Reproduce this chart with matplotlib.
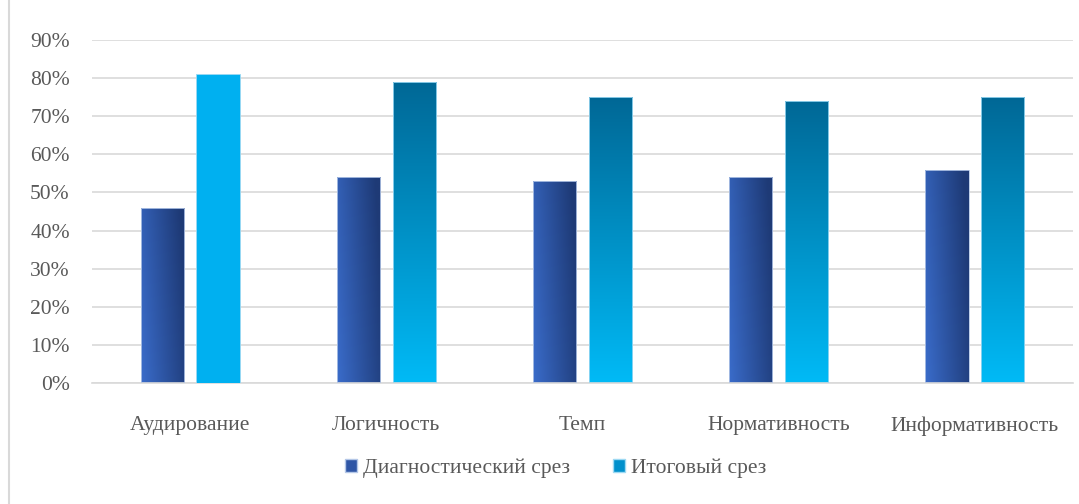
import matplotlib.pyplot as plt
import matplotlib.patches as mpatches
import numpy

plt.rcParams['font.family'] = ['Liberation Serif', 'DejaVu Serif']

categories = ['Аудирование', 'Логичность', 'Темп', 'Нормативность', 'Информативность']
diagnostic = [46, 54, 53, 54, 56]
final = [81, 79, 75, 74, 75]
series_names = ['Диагностический срез', 'Итоговый срез']
yticks = [0, 10, 20, 30, 40, 50, 60, 70, 80, 90]

textColor = '#595959'
gridColor = '#d9d9d9'

fig = plt.figure(figsize = (10.79, 5.04), dpi = 100)
ax = fig.add_axes([92/1079, 1 - 383/504, (1073 - 92)/1079, (383 - 40)/504])

x = numpy.arange(len(categories))
barWidth = 0.22
offset = 0.142

bars1 = ax.bar(x - offset, diagnostic, barWidth, facecolor = 'none',
               edgecolor = '#b4c7e7', linewidth = 0.6, zorder = 3)
bars2 = ax.bar(x + offset, final, barWidth, facecolor = 'none',
               edgecolor = '#9dd9f3', linewidth = 0.6, zorder = 3)

# horizontal-diagonal gradient for the diagnostic series
left = numpy.array([58, 108, 202]) / 255
right = numpy.array([30, 58, 118]) / 255
gx, gy = numpy.meshgrid(numpy.linspace(0, 1, 64), numpy.linspace(0, 1, 64))
t = numpy.clip(0.85*gx + 0.25*gy, 0, 1)
grad1 = left + (right - left)*t[..., None]

# vertical gradient for the final series
top = numpy.array([0, 104, 150]) / 255
bottom = numpy.array([0, 186, 246]) / 255
ty = numpy.linspace(0, 1, 128)[:, None, None]
grad2 = numpy.repeat(top + (bottom - top)*ty, 4, axis = 1)

for b in bars1:
   x0, w, h = b.get_x(), b.get_width(), b.get_height()
   im = ax.imshow(grad1, extent = (x0, x0 + w, 0, h), origin = 'lower',
                  aspect = 'auto', zorder = 2, interpolation = 'bilinear')
   im.set_clip_path(b)

for i, b in enumerate(bars2):
   x0, w, h = b.get_x(), b.get_width(), b.get_height()
   if i == 0:
      b.set_facecolor('#00b0f0')
      continue
   im = ax.imshow(grad2, extent = (x0, x0 + w, 0, h), origin = 'upper',
                  aspect = 'auto', zorder = 2, interpolation = 'bilinear')
   im.set_clip_path(b)

ax.set_xlim(-0.5, len(categories) - 0.5)
ax.set_ylim(0, 90)
ax.set_yticks(yticks)
ax.set_yticklabels([str(v) + '%' for v in yticks], fontsize = 15.5, color = textColor)
ax.set_xticks(x)
ax.set_xticklabels(categories, fontsize = 15.5, color = textColor)
ax.tick_params(axis = 'x', length = 0, pad = 24)
ax.tick_params(axis = 'y', length = 0, pad = 16)
ax.grid(axis = 'y', color = gridColor, linewidth = 1.2, zorder = 0)
ax.set_axisbelow(True)
for s in ['top', 'right', 'left']:
   ax.spines[s].set_visible(False)
ax.spines['bottom'].set_color(gridColor)
ax.spines['bottom'].set_linewidth(1.2)

handles = [mpatches.Patch(facecolor = '#2f56a6', edgecolor = '#b4c7e7', label = series_names[0]),
           mpatches.Patch(facecolor = '#0090cc', edgecolor = '#9dd9f3', label = series_names[1])]
leg = fig.legend(handles = handles, loc = 'center', bbox_to_anchor = (0.515, 1 - 468/504),
                 ncol = 2, frameon = False, fontsize = 15.5, handlelength = 0.55,
                 handleheight = 0.55, handletextpad = 0.3, columnspacing = 2.0)
for txt in leg.get_texts():
   txt.set_color(textColor)

# chart area border
fig.add_artist(plt.Line2D([9/1079, 9/1079], [0, 1], color = gridColor, linewidth = 1.5))

fig.savefig('out.png', dpi = 100)
